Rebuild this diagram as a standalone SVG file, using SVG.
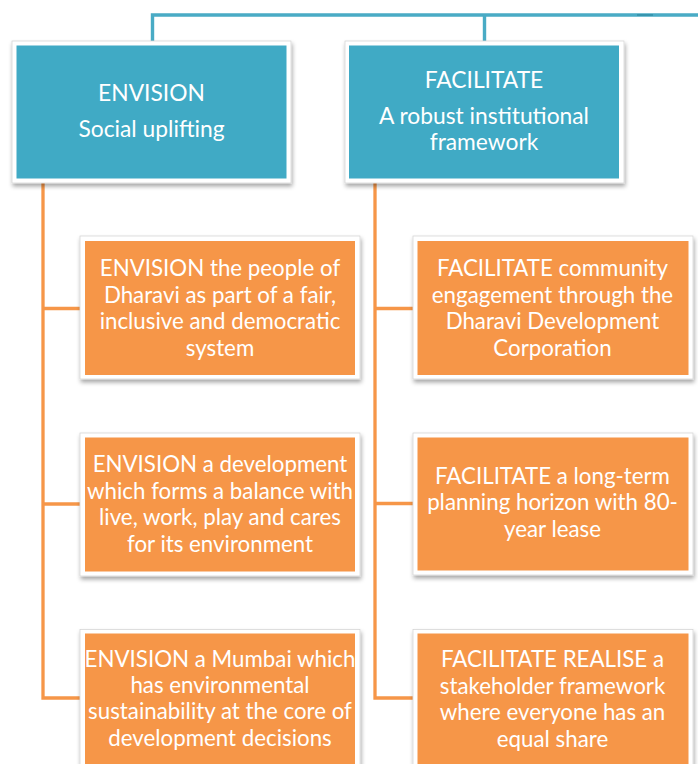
<svg xmlns="http://www.w3.org/2000/svg" width="698" height="764" viewBox="0 0 698 764">
<defs>
  <filter id="sh" x="-10%" y="-10%" width="125%" height="130%">
    <feDropShadow dx="1" dy="3" stdDeviation="2" flood-color="#000" flood-opacity="0.35"/>
  </filter>
  <style>
    .outer { fill: #ffffff; stroke: #d6d6d6; stroke-width: 0.8; filter: url(#sh); }
    .blue { fill: #40AAC5; }
    .orange { fill: #F69648; }
    .tc { stroke: #49ABC5; stroke-width: 3.4; fill: none; }
    .oc { stroke: #F69648; stroke-width: 3.3; fill: none; }
    text { font-family: Lato, "Open Sans", "Liberation Sans", sans-serif; fill: #ffffff; text-anchor: middle; }
    .h { font-size: 22.8px; }
    .c { font-size: 22.3px; }
  </style>
</defs>
<rect width="698" height="764" fill="#ffffff"/>
<g id="connectors">
  <path class="tc" d="M152.5,41 V15 H698"/>
  <path class="tc" d="M484.5,15 V41"/>
  <path d="M637,15 H653" stroke="#3795AE" stroke-width="2" fill="none"/>
  <path class="oc" d="M43,183 V698 H81"/>
  <path class="oc" d="M43,308.5 H81"/>
  <path class="oc" d="M43,504 H81"/>
  <path class="oc" d="M375,183 V698 H414"/>
  <path class="oc" d="M375,308.5 H414"/>
  <path class="oc" d="M375,503.5 H414"/>
</g>
<g id="header-envision">
  <rect class="outer" x="12" y="41" width="279" height="142"/>
  <rect class="blue" x="16.5" y="45.5" width="270" height="133"/>
  <text class="h" x="151.5" y="101">ENVISION</text>
  <text class="h" x="151.5" y="137">Social uplifting</text>
</g>
<g id="header-facilitate">
  <rect class="outer" x="345" y="41" width="279" height="142"/>
  <rect class="blue" x="349" y="45.5" width="270" height="133"/>
  <text class="h" x="484" y="88">FACILITATE</text>
  <text class="h" x="484" y="124">A robust institutional</text>
  <text class="h" x="484" y="149.5">framework</text>
</g>
<g id="envision-1">
  <rect class="outer" x="80" y="236" width="280" height="143"/>
  <rect class="orange" x="85" y="241" width="270" height="134"/>
  <text class="c" x="220" y="276">ENVISION the people of</text>
  <text class="c" x="220" y="302.5">Dharavi as part of a fair,</text>
  <text class="c" x="220" y="329">inclusive and democratic</text>
  <text class="c" x="220" y="355.5">system</text>
</g>
<g id="envision-2">
  <rect class="outer" x="80" y="433" width="280" height="143"/>
  <rect class="orange" x="85" y="437.5" width="270" height="134"/>
  <text class="c" x="220" y="472">ENVISION a development</text>
  <text class="c" x="220" y="498.5">which forms a balance with</text>
  <text class="c" x="220" y="525">live, work, play and cares</text>
  <text class="c" x="220" y="551.5">for its environment</text>
</g>
<g id="envision-3">
  <rect class="outer" x="80" y="629.5" width="280" height="143"/>
  <rect class="orange" x="85" y="633.5" width="270" height="134"/>
  <text class="c" x="220" y="666.5">ENVISION a Mumbai which</text>
  <text class="c" x="220" y="692.5">has environmental</text>
  <text class="c" x="220" y="719">sustainability at the core of</text>
  <text class="c" x="220" y="745.5">development decisions</text>
</g>
<g id="facilitate-1">
  <rect class="outer" x="413" y="236" width="280" height="143"/>
  <rect class="orange" x="417.5" y="241" width="271" height="134"/>
  <text class="c" x="552.5" y="276">FACILITATE community</text>
  <text class="c" x="552.5" y="302.5">engagement through the</text>
  <text class="c" x="552.5" y="329">Dharavi Development</text>
  <text class="c" x="552.5" y="355.5">Corporation</text>
</g>
<g id="facilitate-2">
  <rect class="outer" x="413" y="433" width="280" height="142"/>
  <rect class="orange" x="417.5" y="437.5" width="271" height="133"/>
  <text class="c" x="552.5" y="483.5">FACILITATE a long-term</text>
  <text class="c" x="552.5" y="510">planning horizon with 80-</text>
  <text class="c" x="552.5" y="536.5">year lease</text>
</g>
<g id="facilitate-3">
  <rect class="outer" x="413" y="629.5" width="280" height="143"/>
  <rect class="orange" x="417.5" y="633.5" width="271" height="134"/>
  <text class="c" x="552.5" y="667">FACILITATE REALISE a</text>
  <text class="c" x="552.5" y="693.5">stakeholder framework</text>
  <text class="c" x="552.5" y="720">where everyone has an</text>
  <text class="c" x="552.5" y="746.5">equal share</text>
</g>
</svg>
